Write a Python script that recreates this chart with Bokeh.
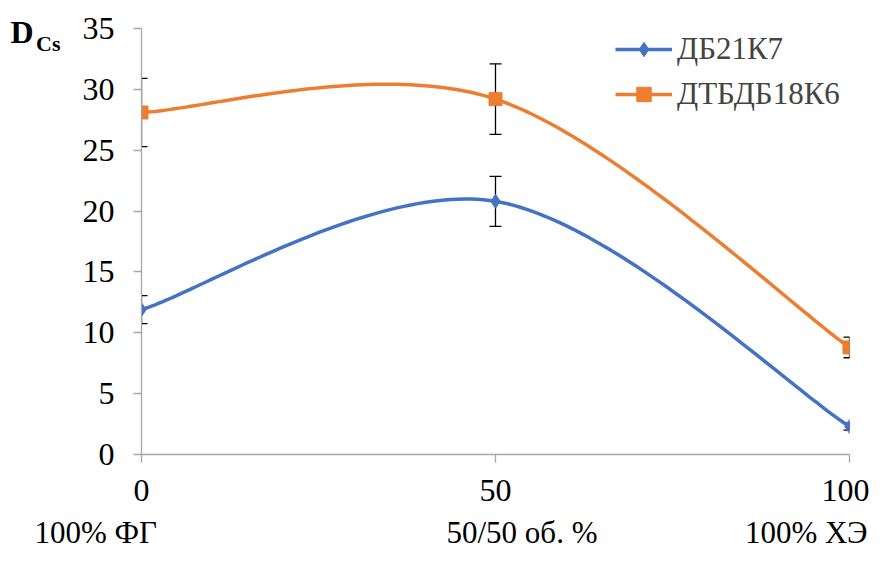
import numpy as np
from bokeh.plotting import figure
from bokeh.models import (Whisker, ColumnDataSource, Legend, LegendItem, LinearAxis,
                          FixedTicker, Range1d, TeeHead, Title)
from bokeh.embed import file_html
from bokeh.resources import INLINE

# ---- data ----
x_vals = [0, 50, 100]
db21k7 = [11.9, 20.8, 2.3]
db21k7_err = [1.15, 2.05, 0.3]
dtbdb18k6 = [28.1, 29.2, 8.8]
dtbdb18k6_err = [2.8, 2.9, 0.85]
series_names = ["ДБ21К7", "ДТБДБ18К6"]
x_ticks = [0, 50, 100]
y_ticks = [0, 5, 10, 15, 20, 25, 30, 35]
bottom_labels = ["100% ФГ", "50/50 об. %", "100% ХЭ"]
y_title_main = "D"
y_title_sub = "Cs"

BLUE = "#4472C4"
ORANGE = "#ED7D31"
FONT = "Liberation Serif"
W, H = 869, 551


def smooth(xs, ys, n=60):
    """Excel-like smoothed line: Catmull-Rom cubic Bezier through the points."""
    pts = np.column_stack([xs, ys]).astype(float)
    ext = np.vstack([pts[0], pts, pts[-1]])
    out = []
    for i in range(len(pts) - 1):
        p0, p1, p2, p3 = ext[i], ext[i + 1], ext[i + 2], ext[i + 3]
        c1 = p1 + (p2 - p0) / 6.0
        c2 = p2 - (p3 - p1) / 6.0
        t = np.linspace(0, 1, n)[:, None]
        seg = (1 - t) ** 3 * p1 + 3 * (1 - t) ** 2 * t * c1 + 3 * (1 - t) * t ** 2 * c2 + t ** 3 * p2
        out.append(seg if i == 0 else seg[1:])
    arr = np.vstack(out)
    return arr[:, 0], arr[:, 1]


p = figure(width=W, height=H, output_backend="svg", toolbar_location=None,
           x_range=Range1d(0, 100), y_range=Range1d(0, 35),
           min_border_left=141, min_border_right=20, min_border_top=28, min_border_bottom=97)
p.outline_line_color = None
p.xgrid.visible = False
p.ygrid.visible = False
p.background_fill_color = "white"
p.border_fill_color = "white"

for ax in (p.xaxis[0], p.yaxis[0]):
    ax.axis_line_color = "#a6a6a6"
    ax.axis_line_width = 1.3
    ax.major_tick_line_color = "#a6a6a6"
    ax.major_tick_line_width = 1.3
    ax.major_tick_out = 8
    ax.major_tick_in = 0
    ax.minor_tick_line_color = None
    ax.major_label_text_font = FONT
    ax.major_label_text_font_size = "32px"
    ax.major_label_text_color = "black"

p.xaxis.ticker = FixedTicker(ticks=x_ticks)
p.yaxis.ticker = FixedTicker(ticks=y_ticks)
p.xaxis.major_label_standoff = 17
p.yaxis.major_label_standoff = 19


def text_axis(ticks, labels, size, bold, standoff):
    return LinearAxis(ticker=FixedTicker(ticks=ticks),
                      major_label_overrides=dict(zip(ticks, labels)),
                      axis_line_color=None, major_tick_line_color=None,
                      minor_tick_line_color=None, major_tick_out=0, major_tick_in=0,
                      major_label_standoff=standoff, major_label_text_font=FONT,
                      major_label_text_font_size=size,
                      major_label_text_font_style="bold" if bold else "normal",
                      major_label_text_color="black")


# D_Cs title built from two label-only axes on the left
p.add_layout(text_axis([33.8], [y_title_sub], "22px", True, 19), "left")
p.add_layout(text_axis([34.7], [y_title_main], "32px", True, 0), "left")

# category texts under the x axis (zero-height title panels, one row)
bottom_align = ["left", "left", "right"]
bottom_offset = [-107, 305, -18]
for txt, al, off in zip(bottom_labels, bottom_align, bottom_offset):
    p.add_layout(Title(text=txt, align=al, offset=off, standoff=-92,
                       vertical_align="bottom",
                       text_font=FONT, text_font_size="31px", text_font_style="normal",
                       text_color="black"), "below")

# error bars (under the markers)
for ys, errs in ((db21k7, db21k7_err), (dtbdb18k6, dtbdb18k6_err)):
    src = ColumnDataSource(dict(base=x_vals,
                                upper=[y + e for y, e in zip(ys, errs)],
                                lower=[y - e for y, e in zip(ys, errs)]))
    w = Whisker(source=src, base="base", upper="upper", lower="lower",
                line_color="black", line_width=1.3, level="underlay",
                upper_head=TeeHead(size=12, line_color="black", line_width=1.3),
                lower_head=TeeHead(size=12, line_color="black", line_width=1.3))
    p.add_layout(w)

items = []
sx, sy = smooth(x_vals, db21k7)
l1 = p.line(sx, sy, line_color=BLUE, line_width=3.5)
m1 = p.scatter(x_vals, db21k7, marker="diamond", size=14, fill_color=BLUE, line_color=BLUE)
items.append(LegendItem(label=series_names[0], renderers=[l1, m1]))

sx, sy = smooth(x_vals, dtbdb18k6)
l2 = p.line(sx, sy, line_color=ORANGE, line_width=3.5)
m2 = p.scatter(x_vals, dtbdb18k6, marker="square", size=13, fill_color=ORANGE, line_color=ORANGE)
items.append(LegendItem(label=series_names[1], renderers=[l2, m2]))

legend = Legend(items=items, location=(474, 342), padding=0, margin=0, spacing=9,
                glyph_width=57, glyph_height=36, label_height=36, label_standoff=5,
                label_text_font=FONT, label_text_font_size="31px",
                border_line_color=None, background_fill_alpha=0)
p.add_layout(legend)

open("out.html", "w").write(file_html(p, INLINE))
